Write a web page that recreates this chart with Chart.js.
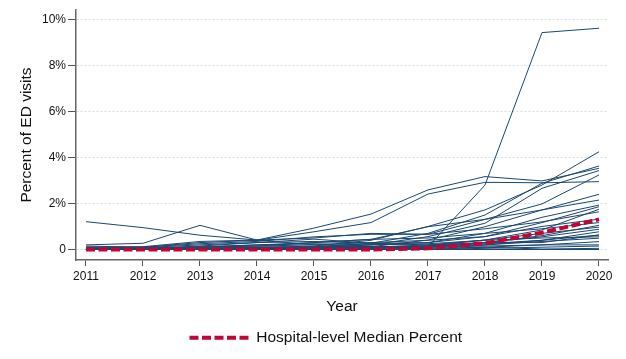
<!DOCTYPE html>
<html>
<head>
<meta charset="utf-8">
<script src="https://cdn.jsdelivr.net/npm/chart.js@4/dist/chart.umd.min.js"></script>
<style>
  html, body { margin: 0; padding: 0; background: #ffffff; }
  #wrap { width: 626px; height: 359px; }
</style>
</head>
<body>
<div id="wrap"><canvas id="c" width="626" height="359"></canvas></div>
<script>
// ---- data (percent of ED visits) ----
const years = [2011, 2012, 2013, 2014, 2015, 2016, 2017, 2018, 2019, 2020];
const yTickValues = [0, 2, 4, 6, 8, 10];
const medianLabel = "Hospital-level Median Percent";
const medianPercent = [0, 0, 0, 0, 0, 0, 0.05, 0.27, 0.73, 1.31];

const h01 = [0.02, 0.02, 0.02, 0.03, 0.03, 0.05, 0.12, 2.80, 9.43, 9.62];
const h02 = [0.10, 0.12, 0.35, 0.41, 0.93, 1.54, 2.59, 3.17, 2.98, 3.53];
const h03 = [0.05, 0.10, 0.30, 0.40, 0.77, 1.17, 2.41, 2.92, 2.90, 2.95];
const h04 = [1.21, 0.95, 0.62, 0.41, 0.20, 0.12, 0.15, 0.25, 0.40, 0.63];
const h05 = [0.20, 0.27, 1.05, 0.41, 0.50, 0.70, 0.66, 0.90, 1.20, 1.64];
const h06 = [0.00, 0.02, 0.05, 0.08, 0.15, 0.40, 1.00, 1.72, 2.80, 4.25];
const h07 = [0.00, 0.00, 0.03, 0.05, 0.10, 0.27, 0.70, 1.50, 2.88, 3.63];
const h08 = [0.00, 0.00, 0.02, 0.05, 0.08, 0.20, 0.56, 1.14, 2.66, 3.43];
const h09 = [0.05, 0.05, 0.10, 0.15, 0.30, 0.44, 0.99, 1.31, 1.98, 3.24];
const h10 = [0.15, 0.10, 0.25, 0.35, 0.55, 0.66, 0.66, 1.31, 1.72, 2.40];
const h11 = [0.00, 0.00, 0.00, 0.03, 0.05, 0.12, 0.41, 0.99, 1.72, 2.15];
const h12 = [0.10, 0.08, 0.20, 0.30, 0.35, 0.27, 0.30, 0.70, 1.40, 1.93];
const h13 = [0.00, 0.02, 0.05, 0.10, 0.10, 0.20, 0.30, 0.56, 1.17, 1.86];
const h14 = [0.00, 0.00, 0.00, 0.00, 0.05, 0.10, 0.20, 0.41, 0.85, 1.75];
const h15 = [0.05, 0.05, 0.12, 0.20, 0.30, 0.44, 0.50, 0.70, 0.90, 1.17];
const h16 = [0.00, 0.00, 0.00, 0.02, 0.05, 0.10, 0.15, 0.41, 0.70, 0.97];
const h17 = [0.00, 0.00, 0.00, 0.00, 0.00, 0.05, 0.10, 0.30, 0.55, 0.88];
const h18 = [0.02, 0.02, 0.05, 0.10, 0.12, 0.12, 0.12, 0.20, 0.40, 0.77];
const h19 = [0.00, 0.00, 0.00, 0.00, 0.00, 0.00, 0.05, 0.20, 0.35, 0.49];
const h20 = [0.00, 0.00, 0.00, 0.00, 0.00, 0.00, 0.00, 0.10, 0.20, 0.34];
const h21 = [0.00, 0.00, 0.00, 0.00, 0.00, 0.00, 0.00, 0.05, 0.10, 0.15];
const h22 = [0.00, 0.00, 0.00, 0.00, 0.00, 0.00, 0.00, 0.00, 0.00, 0.00];
const h23 = [0.05, 0.05, 0.10, 0.15, 0.20, 0.30, 0.40, 0.56, 1.00, 1.32];
const h24 = [0.00, 0.05, 0.15, 0.30, 0.45, 0.27, 0.20, 0.30, 0.30, 0.63];
const h25 = [0.00, 0.00, 0.05, 0.10, 0.10, 0.10, 0.10, 0.15, 0.20, 0.20];
const h26 = [0.00, 0.00, 0.00, 0.05, 0.05, 0.10, 0.15, 0.30, 0.60, 1.05];
const h27 = [0.02, 0.05, 0.10, 0.20, 0.25, 0.20, 0.25, 0.40, 0.50, 0.55];
const h28 = [0.00, 0.00, 0.00, 0.00, 0.00, 0.02, 0.05, 0.10, 0.02, 0.05];

const hospitals = [h01, h02, h03, h04, h05, h06, h07, h08, h09, h10, h11, h12, h13, h14,
                   h15, h16, h17, h18, h19, h20, h21, h22, h23, h24, h25, h26, h27, h28];

// ---- styling ----
const NAVY = '#1a476f';
const RED = '#c10534';
const MEDIAN_DASH = [9, 3.5];
const FONT = '"Liberation Sans", Arial, sans-serif';

const toPoints = arr => years.map((yr, i) => ({ x: yr, y: arr[i] }));

const datasets = [{
  label: medianLabel,
  data: toPoints(medianPercent),
  borderColor: RED,
  backgroundColor: RED,
  borderWidth: 4,
  borderDash: MEDIAN_DASH,
  pointRadius: 0,
  tension: 0,
  fill: false
}];
hospitals.forEach((arr, i) => {
  datasets.push({
    label: 'Hospital ' + (i + 1),
    data: toPoints(arr),
    borderColor: NAVY,
    borderWidth: 1,
    pointRadius: 0,
    tension: 0,
    fill: false
  });
});

// place the legend so its sample line starts where the reference's does
const legendShift = {
  id: 'legendShift',
  afterLayout(chart) {
    const lg = chart.legend;
    if (!lg || !lg.lineWidths) return;
    const pad = lg.options.labels.padding;
    const start = (lg.left + pad + lg.right - lg.lineWidths[0]) / 2;
    const d = 189.5 - start;
    lg.left += d;
    lg.right += d;
  }
};

new Chart(document.getElementById('c'), {
  type: 'line',
  data: { datasets },
  plugins: [legendShift],
  options: {
    responsive: false,
    animation: false,
    devicePixelRatio: 1,
    layout: { padding: { left: 0, right: 18, top: 10, bottom: 3.5 } },
    plugins: {
      tooltip: { enabled: false },
      legend: {
        position: 'bottom',
        labels: {
          generateLabels: chart =>
            Chart.defaults.plugins.legend.labels.generateLabels(chart)
              .filter(l => l.text === medianLabel)
              .map(l => Object.assign(l, {
                lineDash: MEDIAN_DASH,
                lineWidth: 4,
                strokeStyle: RED,
                fillStyle: RED
              })),
          usePointStyle: true,
          pointStyle: 'line',
          pointStyleWidth: 59,
          padding: 10,
          color: '#111',
          font: { family: FONT, size: 15.5 }
        }
      }
    },
    scales: {
      x: {
        type: 'linear',
        min: 2010.825,
        max: 2020.158,
        afterBuildTicks: s => { s.ticks = years.map(v => ({ value: v })); },
        afterFit: s => { s.height = 60; },
        ticks: {
          autoSkip: false,
          maxRotation: 0,
          padding: 3,
          color: '#111',
          font: { family: FONT, size: 12 },
          callback: v => String(v)
        },
        grid: {
          drawOnChartArea: false,
          drawTicks: true,
          tickLength: 6,
          tickColor: '#555',
          tickWidth: 1
        },
        border: { display: true, color: '#666', width: 1.5 },
        title: {
          display: true,
          text: 'Year',
          color: '#111',
          font: { family: FONT, size: 15.5 },
          padding: { top: 4, bottom: 4 }
        }
      },
      y: {
        type: 'linear',
        min: -0.457,
        max: 10.413,
        afterBuildTicks: s => { s.ticks = yTickValues.map(v => ({ value: v })); },
        afterFit: s => { s.width = 76; },
        ticks: {
          padding: 2,
          color: '#111',
          font: { family: FONT, size: 12 },
          callback: v => (v === 0 ? '0' : v + '%')
        },
        grid: {
          drawOnChartArea: true,
          color: '#cfe3ea',
          lineWidth: 1,
          drawTicks: true,
          tickLength: 8,
          tickColor: '#555',
          tickWidth: 1
        },
        border: { display: true, color: '#666', width: 1.5, dash: [2, 2] },
        title: {
          display: true,
          text: 'Percent of ED visits',
          color: '#111',
          font: { family: FONT, size: 15.5 },
          padding: { top: 17, bottom: 17 }
        }
      }
    }
  }
});
</script>
</body>
</html>
